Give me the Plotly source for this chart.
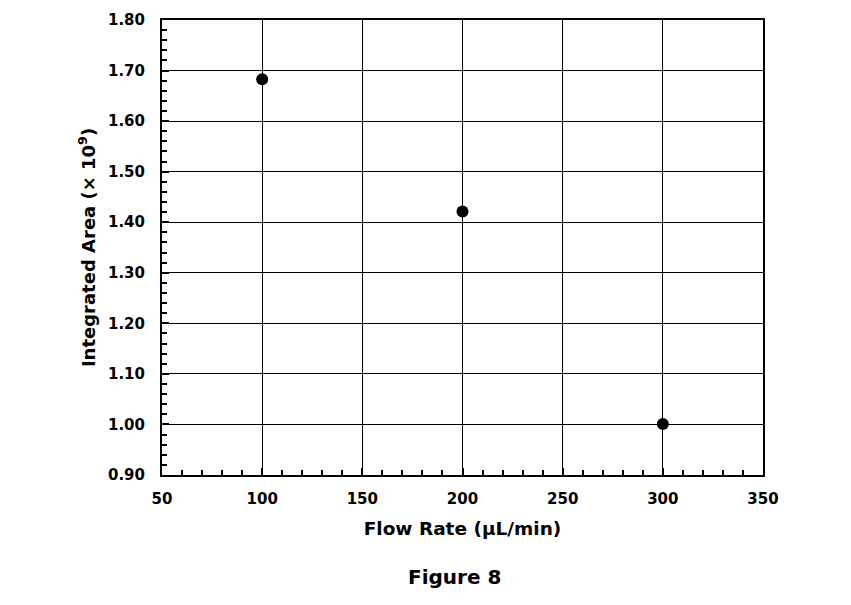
import plotly.graph_objects as go

flow_rate = [100, 200, 300]
integrated_area = [1.683, 1.421, 1.001]

FONT = "DejaVu Sans, Verdana, sans-serif"

fig = go.Figure()
fig.add_trace(go.Scatter(
    x=flow_rate, y=integrated_area, mode="markers",
    marker=dict(size=12, color="black"),
    showlegend=False,
))

axis_common = dict(
    showline=True, linecolor="black", linewidth=2, mirror=True,
    showgrid=True, gridcolor="black", gridwidth=1,
    ticks="inside", ticklen=7, tickcolor="black", tickwidth=1.5,
    zeroline=False, automargin=False,
    tickfont=dict(family=FONT, size=15, color="black", weight="bold"),
)

fig.update_xaxes(
    range=[50, 350], dtick=50, tick0=50, ticklabelstandoff=9,
    minor=dict(ticks="inside", dtick=10, ticklen=5, tickcolor="black", tickwidth=1.5, showgrid=False),
    title=dict(text="Flow Rate (\u00b5L/min)", standoff=15,
               font=dict(family=FONT, size=18.5, color="black", weight="bold")),
    **axis_common,
)
fig.update_yaxes(
    range=[0.90, 1.80], dtick=0.1, tick0=0.9, tickformat=".2f", ticklabelstandoff=12,
    minor=dict(ticks="inside", dtick=0.02, ticklen=5, tickcolor="black", tickwidth=1.5, showgrid=False),
    title=dict(text="Integrated Area (\u00d7 10<sup>9</sup>)", standoff=8,
               font=dict(family=FONT, size=18, color="black", weight="bold")),
    **axis_common,
)

fig.add_annotation(
    text="Figure 8", xref="paper", yref="paper", x=0.486, y=-0.224,
    showarrow=False, yanchor="middle",
    font=dict(family=FONT, size=20, color="black", weight="bold"),
)

# page body adds an 8px offset, so the plot margins are shifted to match
fig.update_layout(
    width=851, height=605,
    margin=dict(l=154, r=96, t=12, b=138),
    plot_bgcolor="white", paper_bgcolor="white",
)

fig.write_html("out.html")
